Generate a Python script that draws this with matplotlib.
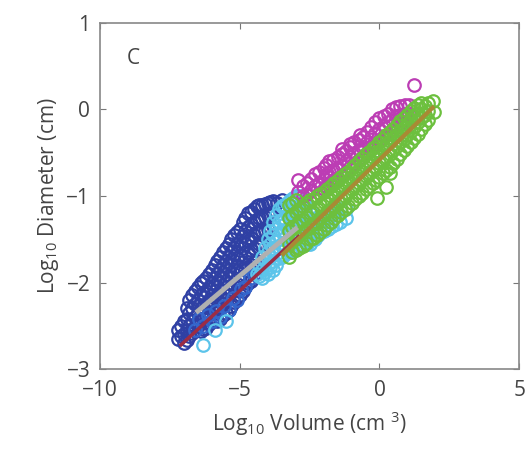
import matplotlib
matplotlib.use("Agg")
import matplotlib.pyplot as plt

plt.rcParams['font.family'] = ['Open Sans', 'DejaVu Sans']
plt.rcParams['mathtext.fontset'] = 'custom'
plt.rcParams['mathtext.rm'] = 'Open Sans'
plt.rcParams['mathtext.it'] = 'Open Sans'

# dark blue cloud (log10 volume, log10 diameter)
blue_x = [-7.2, -7.2, -7.0, -7.0, -7.0, -6.8, -6.8, -6.8, -6.8,
          -6.6, -6.6, -6.6, -6.6, -6.4, -6.4, -6.4, -6.4, -6.4,
          -6.2, -6.2, -6.2, -6.2, -6.2, -6.0, -6.0, -6.0, -6.0, -6.0,
          -5.8, -5.8, -5.8, -5.8, -5.8, -5.8, -5.6, -5.6, -5.6, -5.6, -5.6, -5.6,
          -5.4, -5.4, -5.4, -5.4, -5.4, -5.4, -5.2, -5.2, -5.2, -5.2, -5.2, -5.2,
          -5.0, -5.0, -5.0, -5.0, -5.0, -5.0, -4.8, -4.8, -4.8, -4.8, -4.8, -4.8,
          -4.6, -4.6, -4.6, -4.6, -4.6, -4.6, -4.4, -4.4, -4.4, -4.4, -4.4,
          -4.2, -4.2, -4.2, -4.2, -4.0, -4.0, -4.0, -3.8, -3.8, -3.5, -3.5,
          -7.1, -7.1, -6.9, -6.9, -6.9, -6.9, -6.7, -6.7, -6.7, -6.7,
          -6.5, -6.5, -6.5, -6.5, -6.3, -6.3, -6.3, -6.3, -6.3,
          -6.1, -6.1, -6.1, -6.1, -6.1, -5.9, -5.9, -5.9, -5.9, -5.9,
          -5.7, -5.7, -5.7, -5.7, -5.7, -5.7, -5.5, -5.5, -5.5, -5.5, -5.5, -5.5,
          -5.3, -5.3, -5.3, -5.3, -5.3, -5.3, -5.1, -5.1, -5.1, -5.1, -5.1, -5.1,
          -4.9, -4.9, -4.9, -4.9, -4.9, -4.9, -4.7, -4.7, -4.7, -4.7, -4.7, -4.7,
          -4.5, -4.5, -4.5, -4.5, -4.5, -4.3, -4.3, -4.3, -4.3,
          -4.1, -4.1, -4.1, -3.9, -3.9, -3.65]
blue_y = [-2.55, -2.65, -2.45, -2.6, -2.7, -2.2, -2.35, -2.5, -2.62,
          -2.1, -2.25, -2.4, -2.55, -2.0, -2.15, -2.3, -2.45, -2.56,
          -1.95, -2.1, -2.25, -2.4, -2.52, -1.85, -2.0, -2.15, -2.3, -2.45,
          -1.75, -1.9, -2.05, -2.2, -2.35, -2.45, -1.65, -1.8, -1.95, -2.1, -2.25, -2.38,
          -1.55, -1.7, -1.85, -2.0, -2.15, -2.32, -1.45, -1.6, -1.75, -1.9, -2.05, -2.22,
          -1.38, -1.52, -1.68, -1.82, -1.98, -2.15, -1.25, -1.4, -1.55, -1.7, -1.85, -2.05,
          -1.18, -1.32, -1.48, -1.62, -1.8, -1.98, -1.12, -1.28, -1.42, -1.58, -1.75,
          -1.1, -1.25, -1.4, -1.55, -1.08, -1.22, -1.38, -1.06, -1.2, -1.05, -1.15,
          -2.5, -2.62, -2.3, -2.42, -2.55, -2.66, -2.15, -2.3, -2.45, -2.58,
          -2.05, -2.2, -2.35, -2.5, -1.98, -2.12, -2.28, -2.42, -2.54,
          -1.9, -2.05, -2.2, -2.35, -2.48, -1.8, -1.95, -2.1, -2.25, -2.4,
          -1.7, -1.85, -2.0, -2.15, -2.3, -2.42, -1.6, -1.75, -1.9, -2.05, -2.2, -2.35,
          -1.5, -1.65, -1.8, -1.95, -2.1, -2.27, -1.42, -1.56, -1.72, -1.86, -2.02, -2.18,
          -1.3, -1.46, -1.6, -1.76, -1.92, -2.1, -1.2, -1.36, -1.52, -1.66, -1.82, -2.0,
          -1.15, -1.3, -1.45, -1.6, -1.76, -1.1, -1.26, -1.42, -1.56,
          -1.09, -1.24, -1.4, -1.07, -1.22, -1.08]

# medium blue points along the lower side of the blue cloud
midblue_x = [-6.6, -6.3, -6.0, -5.7, -5.4, -5.1, -4.8, -4.5,
             -6.45, -6.15, -5.85, -5.55, -5.25, -4.95, -4.65]
midblue_y = [-2.55, -2.5, -2.45, -2.4, -2.32, -2.2, -2.05, -1.9,
             -2.42, -2.38, -2.33, -2.27, -2.18, -2.08, -1.95]

# light blue cloud
cyan_x = [-6.3, -5.9, -5.5, -4.4,
          -4.2, -4.2, -4.2, -4.0, -4.0, -4.0, -4.0,
          -3.8, -3.8, -3.8, -3.8, -3.8, -3.6, -3.6, -3.6, -3.6, -3.6,
          -3.4, -3.4, -3.4, -3.4, -3.4, -3.2, -3.2, -3.2, -3.2, -3.2,
          -3.0, -3.0, -3.0, -3.0, -3.0, -2.8, -2.8, -2.8, -2.8, -2.8,
          -2.6, -2.6, -2.6, -2.6, -2.4, -2.4, -2.4, -2.2, -2.2,
          -2.0, -2.0, -1.7, -1.7, -1.4, -1.4,
          -4.3, -4.3, -4.1, -4.1, -4.1, -3.9, -3.9, -3.9, -3.9,
          -3.7, -3.7, -3.7, -3.7, -3.7, -3.5, -3.5, -3.5, -3.5, -3.5,
          -3.3, -3.3, -3.3, -3.3, -3.3, -3.1, -3.1, -3.1, -3.1, -3.1,
          -2.9, -2.9, -2.9, -2.9, -2.9, -2.7, -2.7, -2.7, -2.7,
          -2.5, -2.5, -2.5, -2.5, -2.3, -2.3, -2.3, -2.1, -2.1,
          -1.85, -1.85, -1.55, -1.55, -1.2, -1.2]
cyan_y = [-2.72, -2.55, -2.45, -1.9,
          -1.7, -1.85, -1.95, -1.5, -1.65, -1.8, -1.9,
          -1.3, -1.45, -1.6, -1.75, -1.86, -1.15, -1.3, -1.45, -1.6, -1.72,
          -1.1, -1.25, -1.4, -1.55, -1.68, -1.05, -1.2, -1.35, -1.5, -1.65,
          -1.0, -1.15, -1.3, -1.45, -1.6, -1.0, -1.15, -1.3, -1.45, -1.58,
          -1.1, -1.25, -1.4, -1.55, -1.2, -1.35, -1.5, -1.3, -1.45,
          -1.25, -1.4, -1.2, -1.35, -1.15, -1.3,
          -1.8, -1.92, -1.6, -1.75, -1.88, -1.4, -1.55, -1.7, -1.82,
          -1.22, -1.38, -1.52, -1.67, -1.8, -1.12, -1.28, -1.42, -1.58, -1.7,
          -1.08, -1.22, -1.38, -1.52, -1.66, -1.02, -1.18, -1.32, -1.48, -1.62,
          -1.0, -1.15, -1.3, -1.45, -1.6, -1.05, -1.2, -1.35, -1.5,
          -1.15, -1.3, -1.45, -1.55, -1.25, -1.4, -1.5, -1.3, -1.42,
          -1.25, -1.38, -1.18, -1.32, -1.15, -1.25]

# magenta cloud
mag_x = [-2.9, -2.9, -2.6, -2.6, -2.3, -2.3, -2.0, -2.0, -2.0,
         -1.8, -1.8, -1.8, -1.5, -1.5, -1.5, -1.2, -1.2, -1.2,
         -0.9, -0.9, -0.9, -0.6, -0.6, -0.6, -0.3, -0.3, -0.3,
         0.0, 0.0, 0.0, 0.3, 0.3, 0.3, 0.6, 0.6, 0.6, 0.9, 0.9, 0.9, 1.25,
         -2.75, -2.75, -2.45, -2.45, -2.15, -2.15, -2.15, -1.9, -1.9, -1.9,
         -1.65, -1.65, -1.65, -1.35, -1.35, -1.35, -1.05, -1.05, -1.05,
         -0.75, -0.75, -0.75, -0.45, -0.45, -0.45, -0.15, -0.15, -0.15,
         0.15, 0.15, 0.15, 0.45, 0.45, 0.45, 0.75, 0.75, 0.75, 1.05, 1.05,
         -1.35, -1.05, -0.7]
mag_y = [-0.82, -0.95, -0.85, -0.98, -0.75, -0.88, -0.68, -0.8, -0.92,
         -0.6, -0.72, -0.85, -0.55, -0.68, -0.8, -0.48, -0.6, -0.72,
         -0.38, -0.5, -0.62, -0.32, -0.45, -0.55, -0.2, -0.32, -0.45,
         -0.1, -0.22, -0.35, -0.05, -0.15, -0.28, 0.03, -0.08, -0.2, 0.05, -0.05, -0.15, 0.28,
         -0.88, -1.0, -0.8, -0.93, -0.72, -0.85, -0.97, -0.64, -0.76, -0.88,
         -0.58, -0.7, -0.82, -0.52, -0.64, -0.76, -0.43, -0.55, -0.67,
         -0.35, -0.47, -0.58, -0.26, -0.38, -0.5, -0.15, -0.27, -0.4,
         -0.08, -0.19, -0.31, 0.0, -0.12, -0.24, 0.04, -0.06, -0.17, 0.05, -0.05,
         -0.46, -0.4, -0.3]

# green cloud
green_x = [-3.25, -3.25, -3.25, -3.25, -3.25, -3.0, -3.0, -3.0, -3.0, -3.0,
           -2.75, -2.75, -2.75, -2.75, -2.5, -2.5, -2.5, -2.5,
           -2.25, -2.25, -2.25, -2.25, -2.0, -2.0, -2.0, -2.0,
           -1.75, -1.75, -1.75, -1.75, -1.5, -1.5, -1.5, -1.5,
           -1.25, -1.25, -1.25, -1.25, -1.0, -1.0, -1.0, -1.0,
           -0.75, -0.75, -0.75, -0.75, -0.5, -0.5, -0.5, -0.5,
           -0.25, -0.25, -0.25, -0.25, 0.0, 0.0, 0.0, 0.0, -0.1,
           0.25, 0.25, 0.25, 0.25, 0.24, 0.5, 0.5, 0.5, 0.5, 0.36,
           0.75, 0.75, 0.75, 0.75, 1.0, 1.0, 1.0, 1.0,
           1.25, 1.25, 1.25, 1.25, 1.5, 1.5, 1.5, 1.5,
           1.75, 1.75, 1.75, 1.95, 1.9,
           -3.12, -3.12, -3.12, -3.12, -3.12, -2.88, -2.88, -2.88, -2.88,
           -2.62, -2.62, -2.62, -2.62, -2.38, -2.38, -2.38, -2.38,
           -2.12, -2.12, -2.12, -2.12, -1.88, -1.88, -1.88, -1.88,
           -1.62, -1.62, -1.62, -1.62, -1.38, -1.38, -1.38, -1.38,
           -1.12, -1.12, -1.12, -1.12, -0.88, -0.88, -0.88, -0.88,
           -0.62, -0.62, -0.62, -0.62, -0.38, -0.38, -0.38, -0.38,
           -0.12, -0.12, -0.12, -0.12, 0.12, 0.12, 0.12, 0.12,
           0.38, 0.38, 0.38, 0.38, 0.62, 0.62, 0.62, 0.62,
           0.88, 0.88, 0.88, 0.88, 1.12, 1.12, 1.12, 1.12,
           1.38, 1.38, 1.38, 1.38, 1.62, 1.62, 1.62]
green_y = [-1.7, -1.55, -1.4, -1.25, -1.1, -1.62, -1.48, -1.33, -1.18, -1.05,
           -1.58, -1.42, -1.28, -1.12, -1.5, -1.35, -1.2, -1.05,
           -1.45, -1.3, -1.15, -1.0, -1.38, -1.22, -1.07, -0.95,
           -1.3, -1.15, -1.0, -0.88, -1.22, -1.07, -0.93, -0.82,
           -1.15, -1.0, -0.85, -0.75, -1.08, -0.92, -0.78, -0.68,
           -1.0, -0.85, -0.7, -0.6, -0.92, -0.77, -0.62, -0.52,
           -0.85, -0.7, -0.55, -0.45, -0.78, -0.62, -0.48, -0.38, -1.02,
           -0.7, -0.55, -0.4, -0.3, -0.9, -0.62, -0.47, -0.33, -0.22, -0.74,
           -0.52, -0.38, -0.25, -0.13, -0.42, -0.3, -0.17, -0.06,
           -0.33, -0.2, -0.08, 0.02, -0.22, -0.1, 0.0, 0.08,
           -0.12, -0.02, 0.08, -0.03, 0.1,
           -1.65, -1.5, -1.36, -1.22, -1.08, -1.6, -1.45, -1.3, -1.15,
           -1.54, -1.38, -1.24, -1.08, -1.48, -1.32, -1.18, -1.03,
           -1.42, -1.26, -1.1, -0.98, -1.34, -1.18, -1.04, -0.92,
           -1.26, -1.11, -0.96, -0.85, -1.18, -1.03, -0.89, -0.78,
           -1.11, -0.96, -0.82, -0.72, -1.04, -0.88, -0.74, -0.64,
           -0.96, -0.81, -0.66, -0.56, -0.88, -0.74, -0.59, -0.49,
           -0.82, -0.66, -0.52, -0.42, -0.74, -0.58, -0.44, -0.34,
           -0.66, -0.51, -0.37, -0.26, -0.57, -0.42, -0.29, -0.18,
           -0.47, -0.34, -0.21, -0.1, -0.38, -0.25, -0.12, -0.02,
           -0.28, -0.15, -0.04, 0.05, -0.17, -0.06, 0.04]

# fitted lines (end points)
gray_fit_x = [-6.5, -3.0]
gray_fit_y = [-2.33, -1.38]
red_fit_x = [-7.1, -2.9]
red_fit_y = [-2.72, -1.47]
brown_fit_x = [-3.45, 1.9]
brown_fit_y = [-1.67, 0.02]

fig = plt.figure(figsize=(5.32, 4.59), dpi=100)
ax = fig.add_axes([0.188, 0.196, 0.788, 0.754])

mk = dict(linestyle='none', marker='o', markersize=9, markerfacecolor='none',
          markeredgewidth=1.6)
ax.plot(blue_x, blue_y, markeredgecolor='#2f40a4', **mk)
ax.plot(midblue_x, midblue_y, markeredgecolor='#3466cc', **mk)
ax.plot(cyan_x, cyan_y, markeredgecolor='#5cc4ea', **mk)
ax.plot(mag_x, mag_y, markeredgecolor='#bc3db4', **mk)
ax.plot(green_x, green_y, markeredgecolor='#6cc03e', **mk)

ax.plot(red_fit_x, red_fit_y, color='#9c2c44', lw=2.5)
ax.plot(gray_fit_x, gray_fit_y, color='#b0b0b0', lw=3.5)
ax.plot(brown_fit_x, brown_fit_y, color='#a88a34', lw=3)

ax.text(-8.8, 0.59, 'C', fontsize=15, color='#444444', va='center', ha='center')

ax.set_xlim(-10, 5)
ax.set_ylim(-3, 1)
ax.set_xticks([-10, -5, 0, 5])
ax.set_yticks([-3, -2, -1, 0, 1])
ax.set_xticklabels(['\u221210', '\u22125', '0', '5'])
ax.set_yticklabels(['\u22123', '\u22122', '\u22121', '0', '1'])
ax.tick_params(direction='in', length=4, top=True, right=True, labelsize=15,
               colors='#777777', labelcolor='#444444')
ax.tick_params(axis='x', pad=8)
ax.tick_params(axis='y', pad=7)
for s in ax.spines.values():
    s.set_color('#888888')
    s.set_linewidth(1.2)

ax.set_xlabel(r'Log$_{10}$ Volume (cm $^{3}$)', fontsize=15, color='#444444', labelpad=6)
ax.set_ylabel(r'Log$_{10}$ Diameter (cm)', fontsize=15, color='#444444', labelpad=4)

fig.savefig('out.png', dpi=100)
